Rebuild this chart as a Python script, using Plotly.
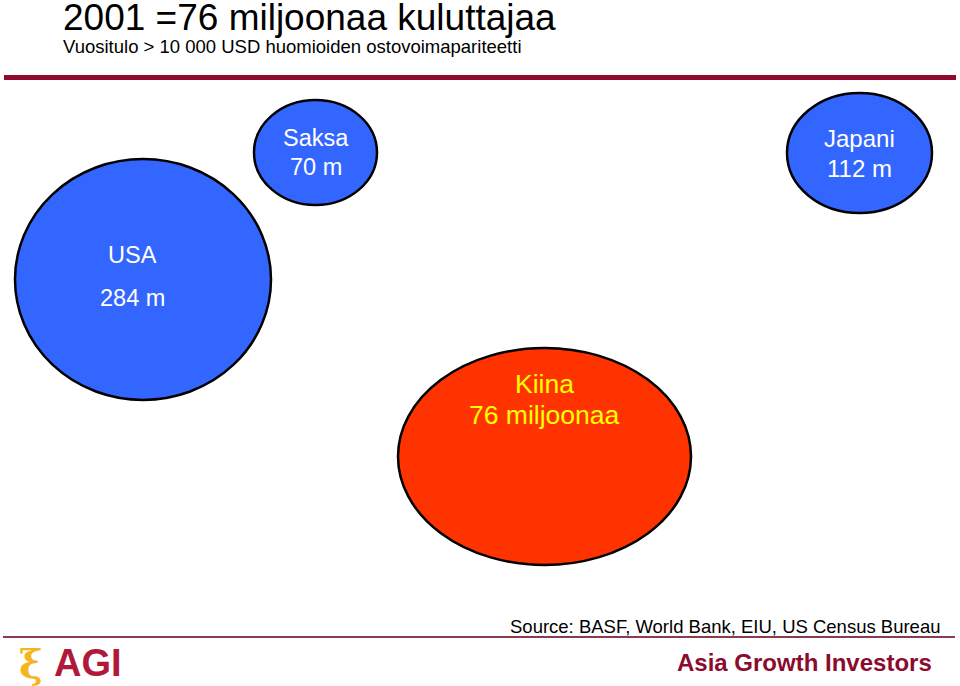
import plotly.graph_objects as go

# ---- data ----
countries = ["USA", "Saksa", "Japani", "Kiina"]
consumers_m = [284, 70, 112, 76]
value_suffix = [" m", " m", " m", " miljoonaa"]

title_text = "2001 =76 miljoonaa kuluttajaa"
subtitle_text = "Vuositulo > 10 000 USD huomioiden ostovoimapariteetti"
source_text = "Source: BASF, World Bank, EIU, US Census Bureau"

# ---- layout (pixel coordinates of the slide) ----
cx = [143, 315.5, 859.5, 544.5]
cy = [279.5, 152.5, 153, 456.5]
rx = [128, 61.5, 72.5, 146.5]
ry = [120.5, 52.5, 60, 108.5]
name_y = [255, 138, 138, 384]
value_y = [298, 167, 168, 415]
label_x = [132, 316, 859, 544]
fills = ["#3366FF", "#3366FF", "#3366FF", "#FF3300"]
text_colors = ["white", "white", "white", "#FFFF00"]
label_sizes = [23.5, 23.5, 24, 26.5]

FONT = "Liberation Sans, Arial, sans-serif"

fig = go.Figure()
# invisible trace to establish axes
fig.add_trace(go.Scatter(x=[0, 960], y=[0, 686], mode="markers",
                         marker=dict(opacity=0), hoverinfo="skip", showlegend=False))

shapes = []
annotations = []
for i, name in enumerate(countries):
    shapes.append(dict(type="circle", xref="x", yref="y",
                       x0=cx[i] - rx[i], x1=cx[i] + rx[i],
                       y0=cy[i] - ry[i], y1=cy[i] + ry[i],
                       fillcolor=fills[i], line=dict(color="black", width=2.5),
                       layer="below"))
    annotations.append(dict(x=label_x[i], y=name_y[i], xref="x", yref="y",
                            text=name, showarrow=False, xanchor="center", yanchor="middle",
                            font=dict(family=FONT, size=label_sizes[i], color=text_colors[i])))
    annotations.append(dict(x=label_x[i], y=value_y[i], xref="x", yref="y",
                            text=f"{consumers_m[i]}{value_suffix[i]}", showarrow=False,
                            xanchor="center", yanchor="middle",
                            font=dict(family=FONT, size=label_sizes[i], color=text_colors[i])))

# rules
shapes.append(dict(type="line", xref="x", yref="y", x0=4, x1=956, y0=77.5, y1=77.5,
                   line=dict(color="#8E0A2E", width=5)))
shapes.append(dict(type="line", xref="x", yref="y", x0=3, x1=955, y0=637, y1=637,
                   line=dict(color="#8B3A55", width=2)))

# titles
annotations.append(dict(x=61, y=17, xref="x", yref="y", text=title_text, showarrow=False,
                        xanchor="left", yanchor="middle",
                        font=dict(family=FONT, size=37, color="black")))
annotations.append(dict(x=61, y=46, xref="x", yref="y", text=subtitle_text, showarrow=False,
                        xanchor="left", yanchor="middle",
                        font=dict(family=FONT, size=18.5, color="black")))
annotations.append(dict(x=943, y=626, xref="x", yref="y", text=source_text, showarrow=False,
                        xanchor="right", yanchor="middle",
                        font=dict(family=FONT, size=18.5, color="black")))
annotations.append(dict(x=934, y=662, xref="x", yref="y", text="<b>Asia Growth Investors</b>",
                        showarrow=False, xanchor="right", yanchor="middle",
                        font=dict(family=FONT, size=24, color="#8B0A2E")))
# logo
annotations.append(dict(x=52, y=663, xref="x", yref="y", text="<b>AGI</b>", showarrow=False,
                        xanchor="left", yanchor="middle",
                        font=dict(family=FONT, size=38, color="#B0183C")))
annotations.append(dict(x=31, y=663, xref="x", yref="y", text="<b>ξ</b>", showarrow=False,
                        xanchor="center", yanchor="middle",
                        font=dict(family="DejaVu Serif, serif", size=40, color="#F5B520")))

fig.update_layout(
    width=960, height=686,
    margin=dict(l=0, r=0, t=0, b=0),
    paper_bgcolor="white", plot_bgcolor="white",
    xaxis=dict(range=[0, 960], visible=False, fixedrange=True),
    yaxis=dict(range=[686, 0], visible=False, fixedrange=True),
    shapes=shapes, annotations=annotations,
    showlegend=False,
)

fig.write_html("out.html", config={"displayModeBar": False},
               post_script="document.body.style.margin='0';document.body.style.overflow='hidden';")
